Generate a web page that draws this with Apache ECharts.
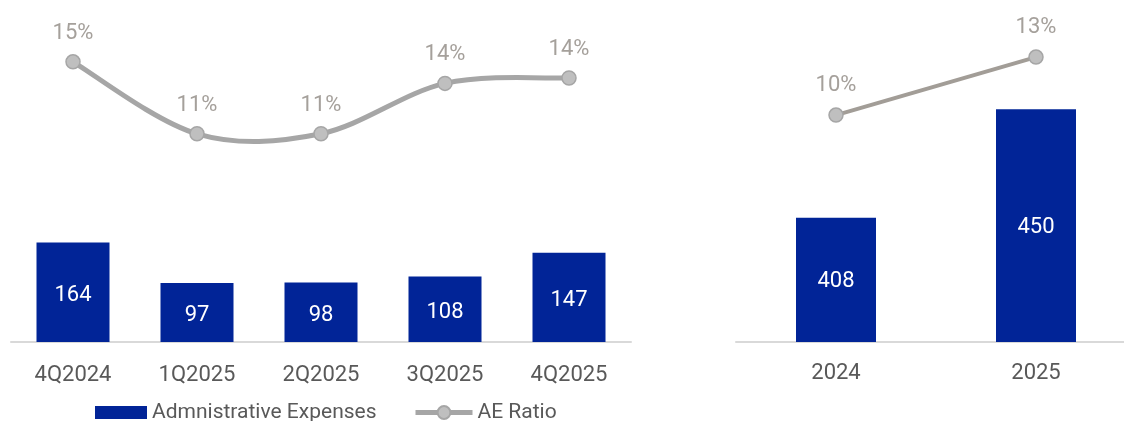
<!DOCTYPE html>
<html>
<head>
<meta charset="utf-8">
<script src="https://cdn.jsdelivr.net/npm/echarts@6/dist/echarts.min.js"></script>
<style>
  html, body { margin: 0; padding: 0; background: #ffffff; }
  #chart { width: 1124px; height: 421px; }
</style>
</head>
<body>
<div id="chart"></div>
<script>
// Quarterly view
const quarters = ['4Q2024', '1Q2025', '2Q2025', '3Q2025', '4Q2025'];
const quarterExpenses = [164, 97, 98, 108, 147];
const quarterRatio = [14.9, 10.9, 10.9, 13.7, 14.0];

// Full-year view
const years = ['2024', '2025'];
const yearExpenses = [408, 450];
const yearRatio = [10, 13];

const FONT = 'Roboto';
const BLUE = '#012497';
const GREY_LINE = '#A6A6A6';
const GREY_LINE_WARM = '#A29D97';
const LABEL_GREY = '#A5A09B';
const AXIS_TEXT = '#595959';

const pct = p => Math.round(p.value) + '%';

const chart = echarts.init(document.getElementById('chart'), null, { renderer: 'canvas' });

const catAxis = (idx, data, margin) => ({
  type: 'category',
  gridIndex: idx,
  data: data,
  axisLine: { show: true, onZero: false, lineStyle: { color: '#D9D9D9', width: 2 } },
  axisTick: { show: false },
  axisLabel: { color: AXIS_TEXT, fontFamily: FONT, fontSize: 22, margin: margin }
});

const valAxis = (idx, min, max) => ({
  type: 'value',
  gridIndex: idx,
  min: min,
  max: max,
  show: false,
  splitLine: { show: false }
});

// Smoothed ratio curve: cubic Bezier segments between neighbouring points
// (Catmull-Rom style tangents), positioned through the axis scales.
function renderSmoothSegment(params, api) {
  const i = params.dataIndex;
  const n = quarterRatio.length;
  if (i >= n - 1) return null;
  const pt = k => {
    const j = Math.max(0, Math.min(n - 1, k));
    return api.coord([j, quarterRatio[j]]);
  };
  const p0 = pt(i - 1), p1 = pt(i), p2 = pt(i + 1), p3 = pt(i + 2);
  const t = 1 / 6;
  return {
    type: 'bezierCurve',
    shape: {
      x1: p1[0], y1: p1[1],
      x2: p2[0], y2: p2[1],
      cpx1: p1[0] + (p2[0] - p0[0]) * t,
      cpy1: p1[1] + (p2[1] - p0[1]) * t,
      cpx2: p2[0] - (p3[0] - p1[0]) * t,
      cpy2: p2[1] - (p3[1] - p1[1]) * t
    },
    style: { stroke: GREY_LINE, lineWidth: 5, fill: null, lineCap: 'round' },
    silent: true
  };
}

chart.setOption({
  animation: false,
  textStyle: { fontFamily: FONT },
  grid: [
    { left: 11, top: 42, width: 620, height: 300, outerBoundsMode: 'none' },
    { left: 736, top: 42, width: 400, height: 300, outerBoundsMode: 'none' }
  ],
  xAxis: [
    catAxis(0, quarters, 22),
    catAxis(1, years, 20)
  ],
  yAxis: [
    valAxis(0, 0, 494),
    valAxis(0, -0.67, 16.0),
    valAxis(1, 360, 476),
    valAxis(1, -1.74, 13.78)
  ],
  legend: [
    {
      left: 95, top: 402, padding: 0,
      itemWidth: 52, itemHeight: 13,
      icon: 'rect',
      data: ['Admnistrative Expenses'],
      textStyle: { color: AXIS_TEXT, fontFamily: FONT, fontSize: 21 }
    },
    {
      left: 413, top: 402, padding: 0,
      itemWidth: 57, itemHeight: 16,
      data: ['AE Ratio'],
      lineStyle: { color: GREY_LINE, width: 5, opacity: 1 },
      textStyle: { color: AXIS_TEXT, fontFamily: FONT, fontSize: 21 }
    }
  ],
  series: [
    {
      name: 'Admnistrative Expenses',
      type: 'bar',
      xAxisIndex: 0, yAxisIndex: 0,
      data: quarterExpenses,
      barWidth: 73,
      itemStyle: { color: BLUE },
      label: { show: true, position: 'inside', offset: [0, 3], color: '#ffffff', fontFamily: FONT, fontSize: 22 }
    },
    {
      name: 'AE Ratio curve',
      type: 'custom',
      xAxisIndex: 0, yAxisIndex: 1,
      data: quarterRatio,
      renderItem: renderSmoothSegment,
      z: 2
    },
    {
      name: 'AE Ratio',
      type: 'line',
      xAxisIndex: 0, yAxisIndex: 1,
      data: quarterRatio,
      symbol: 'circle',
      symbolSize: 14,
      lineStyle: { color: GREY_LINE, width: 5, opacity: 0 },
      itemStyle: { color: '#BFBFBF', borderColor: GREY_LINE, borderWidth: 1.5 },
      label: { show: true, position: 'top', distance: 10, color: LABEL_GREY, fontFamily: FONT, fontSize: 22, formatter: pct },
      z: 3
    },
    {
      name: 'Admnistrative Expenses',
      type: 'bar',
      xAxisIndex: 1, yAxisIndex: 2,
      data: yearExpenses,
      barWidth: 80,
      itemStyle: { color: BLUE },
      label: { show: true, position: 'inside', offset: [0, 2], color: '#ffffff', fontFamily: FONT, fontSize: 22 }
    },
    {
      name: 'AE Ratio',
      type: 'line',
      xAxisIndex: 1, yAxisIndex: 3,
      data: yearRatio,
      symbol: 'circle',
      symbolSize: 14,
      lineStyle: { color: GREY_LINE_WARM, width: 4 },
      itemStyle: { color: '#BFBFBF', borderColor: GREY_LINE, borderWidth: 1.5 },
      label: { show: true, position: 'top', distance: 11, color: LABEL_GREY, fontFamily: FONT, fontSize: 22, formatter: pct },
      z: 3
    }
  ]
});
</script>
</body>
</html>
